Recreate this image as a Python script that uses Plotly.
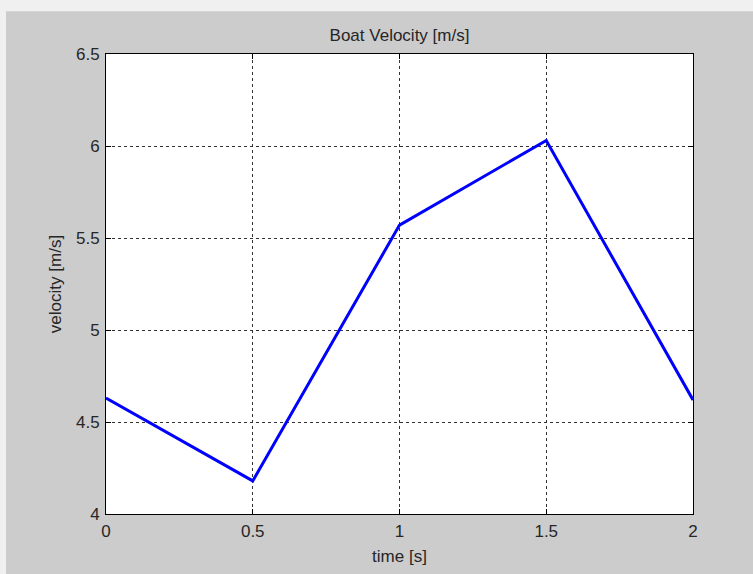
import plotly.graph_objects as go

time_s = [0, 0.5, 1.0, 1.5, 2.0]
velocity = [4.63, 4.18, 5.57, 6.03, 4.62]

x_ticks = [0, 0.5, 1, 1.5, 2]
x_tick_labels = ["0", "0.5", "1", "1.5", "2"]
y_ticks = [4, 4.5, 5, 5.5, 6, 6.5]
y_tick_labels = ["4", "4.5", "5", "5.5", "6", "6.5"]

FONT = "Liberation Sans, Arial, sans-serif"
TXT = "#262626"
FS = 17

fig = go.Figure()
fig.add_trace(go.Scatter(x=time_s, y=velocity, mode="lines",
                         line=dict(color="#0000ff", width=3), showlegend=False,
                         cliponaxis=True))

axis_common = dict(showline=True, linecolor="black", linewidth=1, mirror="ticks",
                   ticks="inside", ticklen=5, tickcolor="black", tickwidth=1,
                   showgrid=True, gridcolor="#333333", gridwidth=1, griddash="3px,3px",
                   zeroline=False, tickfont=dict(family=FONT, size=FS, color=TXT))

fig.update_xaxes(range=[0, 2], tickvals=x_ticks, ticktext=x_tick_labels,
                 title=dict(text="time [s]", font=dict(family=FONT, size=FS, color=TXT), standoff=9),
                 ticklabelstandoff=2, **axis_common)
fig.update_yaxes(range=[4, 6.5], tickvals=y_ticks, ticktext=y_tick_labels,
                 title=dict(text="velocity [m/s]", font=dict(family=FONT, size=FS, color=TXT), standoff=10),
                 ticklabelstandoff=2, **axis_common)

fig.update_layout(
    width=753, height=574,
    margin=dict(l=106, r=60, t=54, b=57, pad=0),
    paper_bgcolor="#cccccc", plot_bgcolor="white",
    title=dict(text="Boat Velocity [m/s]", x=0.5, xref="paper", xanchor="center",
               y=1 - 35 / 574, yref="container", yanchor="middle",
               font=dict(family=FONT, size=FS, color=TXT)),
    shapes=[
        dict(type="rect", xref="paper", yref="paper", x0=-0.3, x1=1.3,
             y0=(517 - 11) / 463, y1=1.3, fillcolor="#f0f0f0", line=dict(width=0), layer="below"),
        dict(type="rect", xref="paper", yref="paper", x0=-0.3, x1=(6 - 106) / 587,
             y0=-0.3, y1=1.3, fillcolor="#f0f0f0", line=dict(width=0), layer="below"),
    ],
)

fig.write_html("out.html", config={"displayModeBar": False},
               post_script="document.body.style.margin='0';document.body.style.overflow='hidden';")
